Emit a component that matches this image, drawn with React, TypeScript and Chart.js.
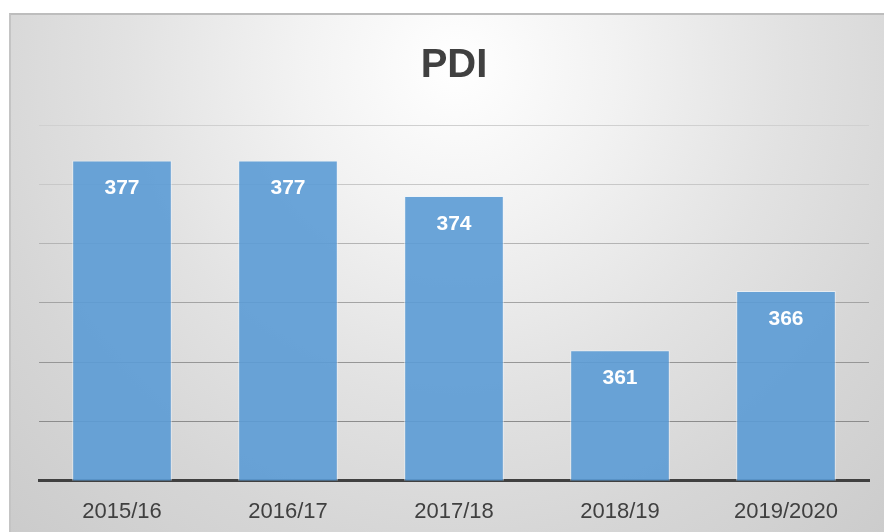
import React, { useEffect, useRef } from "react";
import { Chart, registerables } from "chart.js";

Chart.register(...registerables);

const chartTitle = "PDI";
const categories = ["2015/16", "2016/17", "2017/18", "2018/19", "2019/2020"];
const pdiValues = [377, 377, 374, 361, 366];
const yMin = 350;
const yMax = 380;
const yStep = 5;

const gridColorByValue: Record<number, string> = {
  380: "#d0d0d0",
  375: "#c8c8c8",
  370: "#b4b4b4",
  365: "#a4a4a4",
  360: "#969696",
  355: "#8c8c8c",
  350: "rgba(0,0,0,0)",
};

const valueLabelPlugin = {
  id: "valueLabels",
  afterDatasetsDraw(chart: any) {
    const ctx = chart.ctx;
    const meta = chart.getDatasetMeta(0);
    const data = chart.data.datasets[0].data;
    ctx.save();
    ctx.fillStyle = "#ffffff";
    ctx.font = "bold 21px 'Liberation Sans', Arial, sans-serif";
    ctx.textAlign = "center";
    ctx.textBaseline = "middle";
    meta.data.forEach((bar: any, i: number) => {
      ctx.fillText(String(data[i]), bar.x, bar.y + 28);
    });
    ctx.restore();
  },
};

const CANVAS_W = 884;
const CANVAS_H = 549;

export default function App() {
  const canvasRef = useRef<HTMLCanvasElement | null>(null);

  useEffect(() => {
    document.documentElement.style.overflow = "hidden";
    document.body.style.overflow = "hidden";
    const canvas = canvasRef.current;
    if (!canvas) return;
    const chart = new Chart(canvas, {
      type: "bar",
      data: {
        labels: categories,
        datasets: [
          {
            label: chartTitle,
            data: pdiValues,
            backgroundColor: "rgba(91,155,213,0.9)",
            borderColor: "rgba(235,243,251,0.7)",
            borderWidth: 1,
            categoryPercentage: 1,
            barPercentage: 0.6,
          },
        ],
      },
      options: {
        animation: false,
        responsive: false,
        maintainAspectRatio: false,
        layout: { padding: { left: 39, right: 15, top: 42, bottom: 6 } },
        plugins: {
          legend: { display: false },
          tooltip: { enabled: false },
          title: {
            display: true,
            text: chartTitle,
            color: "#404040",
            font: { family: "'Liberation Sans', Arial, sans-serif", size: 40, weight: "bold" },
            padding: { top: 0, bottom: 35 },
          },
        },
        scales: {
          x: {
            grid: { display: false, drawTicks: false },
            border: { display: true, color: "#404040", width: 3 },
            ticks: {
              color: "#404040",
              padding: 18,
              font: { family: "'Liberation Sans', Arial, sans-serif", size: 22 },
            },
          },
          y: {
            min: yMin,
            max: yMax,
            ticks: { display: false, stepSize: yStep },
            grid: {
              drawTicks: false,
              lineWidth: 1,
              color: (c: any) => gridColorByValue[c.tick?.value] ?? "#c0c0c0",
            },
            border: { display: false },
          },
        },
      },
      plugins: [valueLabelPlugin],
    });
    return () => chart.destroy();
  }, []);

  return (
    <div
      style={{
        position: "fixed",
        left: 0,
        top: 0,
        width: 884,
        height: 532,
        overflow: "hidden",
        background: "#ffffff",
      }}
    >
      <div
        style={{
          position: "absolute",
          left: 9,
          top: 13,
          width: 900,
          height: 540,
          boxSizing: "border-box",
          borderTop: "2px solid #bdbdbd",
          borderLeft: "2px solid #c4c4c4",
          background:
            "radial-gradient(circle at 445px 50px, #ffffff 0px, #f2f2f2 160px, #e2e2e2 330px, #d6d6d6 480px, #cbcbcb 650px, #c4c4c4 800px)",
        }}
      />
      <canvas
        ref={canvasRef}
        width={CANVAS_W}
        height={CANVAS_H}
        style={{ position: "absolute", left: 0, top: 0, width: CANVAS_W, height: CANVAS_H }}
      />
    </div>
  );
}
